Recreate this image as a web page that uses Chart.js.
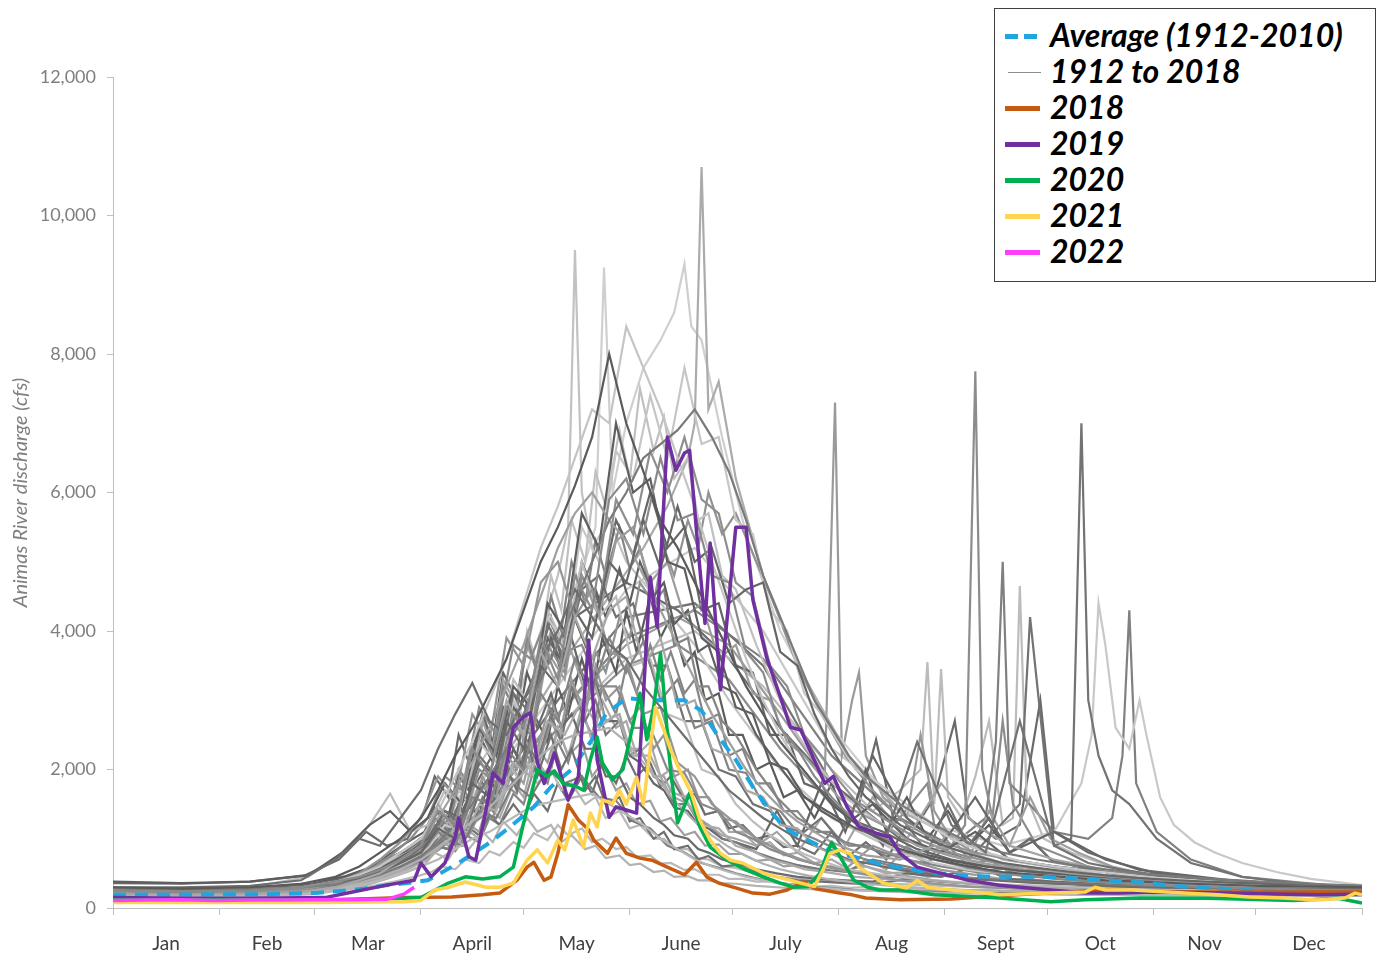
<!DOCTYPE html>
<html>
<head>
<meta charset="utf-8">
<script src="https://cdn.jsdelivr.net/npm/chart.js@4.4.1/dist/chart.umd.min.js"></script>
<style>
html,body{margin:0;padding:0;background:#fff;}
#wrap{position:relative;width:1382px;height:958px;overflow:hidden;}
#c{position:absolute;left:0;top:0;}
#legend{position:absolute;left:994px;top:8px;width:382px;height:274px;border:1px solid #404040;background:#fff;box-sizing:border-box;
  font-family:Lato,"DejaVu Sans",sans-serif;font-weight:bold;font-style:italic;font-size:32px;color:#000;}
.item{position:absolute;left:0;height:36px;width:380px;}
.sw{position:absolute;top:50%;}
.txt{position:absolute;left:55px;top:0;height:36px;line-height:36px;white-space:nowrap;}
</style>
</head>
<body>
<div id="wrap">
<canvas id="c" width="1382" height="958"></canvas>
<div id="legend"></div>
</div>
<script>
// ---------- axes ----------
const MONTHS = ['Jan','Feb','Mar','April','May','June','July','Aug','Sept','Oct','Nov','Dec'];
const MONTH_STARTS = [0,31,59,90,120,151,181,212,243,273,304,334,365];
const Y_MIN = 0, Y_MAX = 12000, Y_STEP = 2000;
const Y_TITLE = 'Animas River discharge (cfs)';

// ---------- highlighted series (day of year, cfs) ----------
const AVG_LABEL = 'Average (1912-2010)';
const AVG_DAYS = [0,15,31,45,60,70,75,80,86,92,101,110,116,123,128,134,140,144,150,157,167,172,177,182,187,192,197,203,209,216,224,232,240,250,260,270,280,290,300,310,320,330,340,350,365];
const AVG_VALS = [190,190,200,200,220,260,290,330,360,400,650,940,1170,1460,1750,2000,2430,2800,3030,3000,3000,2850,2470,2140,1750,1400,1130,980,840,740,640,560,510,460,450,450,430,400,370,320,290,260,235,215,200];

const Y2018_DAYS = [0,30,60,85,99,108,113,118,121,123,126,128,130,133,136,139,140.5,144.5,147,150,154,157.5,162,167,170.5,173.5,177,182,187,192,197,202,205,212,216,220,230,245,260,275,290,305,320,340,365];
const Y2018_VALS = [100,100,110,150,160,190,215,400,590,660,400,450,790,1490,1270,1130,980,790,1010,790,720,690,590,480,660,450,360,290,215,200,260,380,280,220,190,145,120,130,180,220,260,240,230,230,230];

const Y2019_DAYS = [0,20,40,62,70,80,88,90,93,97,100,101,104,106,109,111,114,117,120,122,124,126,129,133,136,139,141.5,145,147,150,153,157,159,162,164.5,167,168.5,171,173,174.5,177.5,182,185,187,191,195,198,201,204,208,210.5,214.5,218,223,227,230,235,242,250,259,274,284,294,304,323,352,365];
const Y2019_VALS = [150,140,140,150,230,330,400,650,450,650,1025,1300,740,690,1415,1950,1800,2610,2760,2820,2100,1800,2240,1560,1900,3870,2140,1310,1460,1415,1370,4780,4060,6800,6320,6570,6610,5170,4110,5270,3150,5500,5500,4450,3620,3050,2610,2570,2240,1800,1900,1460,1170,1080,1025,790,590,500,400,330,260,215,215,230,215,190,200];

const Y2020_DAYS = [0,30,60,80,90,98,103,108,113,117,120,122.5,124,127,129,131.5,135.5,137.5,139.5,141.5,143,146,149,151,154,156,158,160,163,165,166.5,168.5,171.5,174.5,179.5,185,190,195,199,203,206.5,210,212.5,216.5,220.5,224,230,240,259,274,284,300,320,345,358,365];
const Y2020_VALS = [120,120,120,130,150,360,450,420,450,590,1230,1700,2000,1900,1980,1800,1750,1700,2140,2470,2100,1850,2000,2430,3100,2430,2900,3680,1950,1230,1415,1660,1170,880,690,550,450,360,300,310,500,950,740,400,300,260,260,190,145,90,120,145,140,110,140,70];

const Y2021_DAYS = [0,30,60,85,90,94,98,103,109,113,117,121,124,127,130,132,134.5,137.5,139.5,141.5,143,146,148,150,153,155,158.5,161,163,166,169,171.5,174.5,177.5,180.5,184,190,194,198,201,205,207.5,209.5,212.5,215.5,218,225,232,235,238,245,254,259,274,284,287,290,298,313,323,332,342,352,360,363,365];
const Y2021_VALS = [80,80,80,90,110,260,300,375,300,300,360,690,840,650,980,840,1270,880,1370,1170,1560,1510,1700,1500,1890,1500,2900,2570,2280,1950,1660,1270,980,790,690,650,505,450,400,360,310,550,790,840,780,590,360,290,400,300,260,220,190,215,230,300,260,260,215,190,160,145,115,145,215,190];

const Y2022_DAYS = [0,10,20,30,40,50,60,70,80,85,88];
const Y2022_VALS = [110,115,120,110,115,115,120,120,125,200,300];

// ---------- historical years 1912 to 2018 (a sample of the grey traces) ----------
const HIST_LABEL = '1912 to 2018';
const DAYS_A = [0,20,40,55,65,72,78,84,90,95,100,105,110,115,120,125,130,135,140,145,150,155,160,165,170,175,180,185,190,195,200,205,210,215,220,230,240,250,260,270,280,290,300,315,335,365];
const DAYS_B = [0,20,40,57,67,75,81,87,92,97,102,107,112,117,122,127,132,137,142,147,152,157,162,167,172,177,182,187,192,197,202,207,212,217,225,235,245,255,265,275,285,295,305,320,340,365];
const DAYS_C = [0,20,40,56,66,74,80,86,91,94,98,101,104,108,111,114,118,121,124,128,131,134,138,141,144,148,151,154,158,161,164,168,171,174,178,182,188,194,200,207,214,222,232,242,252,262,275,290,305,325,345,365];
const DAYS_D = [0,20,40,58,68,76,83,89,93,96,100,103,107,110,113,117,120,123,127,130,133,137,140,143,147,150,153,157,160,163,167,170,173,177,180,184,188,192,196,200,205,210,215,220,226,232,238,244,250,256,262,268,274,282,292,305,325,345,365];

const HA1 = [300,280,300,350,450,600,800,1000,1300,1700,2200,2600,3100,3600,4300,5000,5500,6100,6800,8000,7000,6300,5600,5200,4700,4200,3700,3200,2800,2400,2100,1800,1500,1300,1100,850,700,600,520,480,440,400,380,350,320,300];
const HA2 = [250,240,250,300,380,450,550,700,900,1400,1200,2300,1900,2900,2600,3900,3300,4800,4300,5900,6200,5400,6500,5600,5700,4800,4700,3700,3400,2600,2300,1900,1600,1350,1150,900,700,580,500,450,400,370,340,310,280,250];
const HA3 = [200,190,200,230,300,400,500,700,900,1500,1100,2300,1900,3000,2500,3700,3200,4200,3600,4300,4500,3500,3900,2900,3000,2300,2200,1700,1600,1200,1150,900,780,680,600,480,400,350,320,300,280,260,250,230,210,200];
const HA4 = [300,300,320,400,700,1000,900,1300,1700,2300,2800,3250,2700,2500,3000,3600,4000,4600,4200,3800,3600,3200,2900,2600,2300,2000,1700,1500,1300,1150,1000,900,800,700,650,550,480,420,390,360,340,320,300,290,280,280];
const HA5 = [180,170,180,200,260,330,400,500,600,700,850,1000,1100,1250,1400,1500,1550,1600,1650,1500,1350,1200,1000,850,700,600,520,450,400,360,330,300,280,260,250,230,220,210,200,200,190,190,190,180,180,180];
const HA6 = [280,260,270,300,340,400,480,600,750,950,1200,1500,1900,2300,2800,3300,3800,4400,5000,5600,6000,6500,6700,6900,7200,6800,6300,5600,4800,4200,3600,3000,2600,2200,1900,1500,1200,950,800,700,620,560,500,440,380,320];
const HA7 = [260,250,260,300,380,480,600,800,1000,1400,1900,2400,3000,3600,4400,5200,5800,6500,7200,7000,8400,7800,7200,6500,5800,5000,4300,3600,3000,2500,2100,1800,1500,1300,1100,800,650,550,500,460,430,400,380,350,320,290];
const HA8 = [220,200,220,260,350,500,700,950,1300,1900,1600,2800,2400,3900,3500,4700,5000,4200,4600,3700,3600,2800,2900,2100,1900,1500,1300,1100,950,820,720,640,580,520,480,400,350,310,290,270,260,250,240,230,220,220];
const HA9 = [260,250,270,300,360,430,520,650,800,1150,1000,1800,1600,2700,2300,3500,3200,4300,3900,5000,4700,5600,4900,5800,5000,5200,4400,4600,4700,3700,3500,2800,2300,1900,1600,1200,950,780,650,580,520,470,430,390,350,300];
const HA10 = [200,190,200,220,280,360,450,560,700,880,1050,1250,1450,1700,1950,2200,2400,2500,2550,2600,2400,2100,1800,1500,1250,1050,880,750,640,560,500,450,410,380,350,310,280,260,250,240,230,220,210,200,200,200];
const HA11 = [240,230,240,280,340,420,520,650,800,1100,900,1600,1500,2300,2000,3100,2700,3600,3100,3900,3400,3850,3000,3300,2600,2700,2000,1950,1500,1400,1100,1000,880,780,700,580,500,440,400,370,350,330,310,290,270,250];
const HA12 = [230,220,240,280,360,480,620,800,1000,1300,1700,2100,2600,3200,3800,4500,5200,5700,6000,5600,5300,4800,4300,3800,3300,2800,2400,2000,1700,1450,1250,1100,950,850,760,700,900,800,650,560,500,460,420,380,340,300];

const HB1 = [380,360,380,470,800,1200,1400,1100,1300,1800,1500,2600,2200,3200,2900,4400,4000,5700,5200,7000,6000,6200,5000,4900,3900,3700,2900,2800,2100,2000,1600,1450,1300,1150,1000,800,680,600,540,500,460,430,400,370,340,320];
const HB2 = [260,260,300,450,800,1200,1650,1100,1200,1700,1500,2400,2100,3300,2900,4300,3800,5000,4200,4500,3500,3600,2800,2700,2000,1900,1500,1250,1050,900,780,680,600,540,480,420,380,350,330,310,290,280,270,260,250,250];
const HB3 = [250,240,250,300,380,470,580,720,900,1300,1200,2000,1800,2800,2500,3800,3400,4800,4300,5900,5400,6600,6000,6800,5900,5700,4700,4500,3500,3200,2500,2200,1850,1550,1300,1000,800,680,600,540,490,450,410,370,330,280];
const HB4 = [230,220,240,280,350,450,580,750,950,1400,1200,2200,1900,3100,2800,4100,3600,4600,4800,4200,4400,3500,3500,2700,2700,2000,1900,1500,1400,1150,1100,1300,1000,1500,900,2400,1200,800,2700,900,650,550,480,420,360,300];
const HB5 = [270,260,270,300,360,440,540,680,860,1200,1100,2000,1800,3000,2600,4200,3800,5500,5000,6600,6200,7400,6500,7800,6700,6800,5600,5400,4300,4000,3100,2800,2400,2000,1700,1300,1000,800,680,600,540,490,440,390,340,290];
const HB6 = [190,180,190,220,300,400,520,650,780,1000,900,1400,1300,1800,1600,2000,1800,1900,1600,1550,1250,1150,900,800,650,580,500,440,390,350,320,300,280,260,250,240,230,220,210,210,200,200,200,190,190,190];
const HB7 = [240,230,240,270,330,410,500,620,780,1100,1000,1800,1600,2700,2300,3700,3300,4800,4200,5300,5500,4700,5000,4200,4400,3600,3800,3100,3000,2400,2200,1900,1600,1400,1200,900,750,640,560,500,450,410,380,350,320,280];
const HB8 = [280,270,290,330,420,520,650,820,1000,1400,1300,2100,1900,2900,2600,3900,3500,5000,4400,5600,5100,6000,5200,5500,4300,4400,3500,3400,2500,2500,1800,1700,1450,1250,1100,850,700,600,540,500,470,440,410,380,340,300];
const HB9 = [210,200,210,240,300,380,470,580,700,950,900,1500,1400,2100,1900,2700,2500,3000,2600,2800,2200,2200,1700,1600,1200,1150,900,820,700,640,560,530,490,450,420,370,330,300,280,260,250,240,230,220,210,200];
const HB10 = [250,240,260,300,400,550,750,1000,1300,1900,1700,2900,2500,3800,3600,4200,3700,3800,3200,3200,2600,2600,2000,1950,1500,1400,1100,1000,850,760,680,610,560,510,470,410,370,340,320,300,290,280,270,260,250,250];

const HC1 = [220,210,230,280,380,520,700,850,1000,1300,1100,1500,1250,1800,1500,2100,1700,2400,1900,2500,2000,2300,1700,1900,1500,1600,1250,1300,1000,1100,850,900,700,750,600,620,520,450,400,380,360,340,420,380,350,330,310,290,270,250,240,230];
const HC2 = [240,230,240,290,360,460,600,750,900,1200,1000,1500,1300,1900,1600,2300,2000,2700,2300,3000,2600,3300,2800,3500,3000,3200,2700,2900,2300,2500,1900,2000,1600,1600,1300,1250,1000,850,700,620,560,900,700,550,480,600,450,400,350,300,270,250];
const HC3 = [270,260,280,320,420,560,750,950,1100,1400,1300,1900,1700,2400,2100,2900,2600,3400,3000,3900,3400,4300,3800,4600,4200,4900,4400,5000,4500,4700,4100,4300,3700,3800,3200,3100,2500,2100,1700,1400,1200,1500,1000,800,1100,700,600,520,450,380,330,290];
const HC4 = [170,160,170,200,260,330,420,520,620,800,700,950,850,1100,950,1250,1050,1300,1100,1200,950,1050,850,900,720,760,620,640,520,540,450,460,400,400,360,350,320,300,280,270,260,250,240,230,220,220,210,200,200,190,180,180];
const HC5 = [250,240,250,300,380,480,620,780,950,1300,1150,1800,1600,2500,2200,3200,2800,3900,3400,4500,4000,5000,4400,5300,4800,5500,4900,5200,4400,4600,3800,3900,3200,3200,2700,2500,2000,1600,1300,1100,950,850,700,600,520,480,430,400,370,340,310,280];
const HC6 = [230,220,240,280,360,470,620,800,1000,1400,1200,2000,1700,2700,2300,3300,2900,3800,3400,4000,3500,3700,3100,3200,2700,2800,2300,2300,1900,1900,1600,1500,1300,1200,1050,1000,900,1100,800,1300,900,1600,1000,1800,1200,900,700,550,450,380,320,280];
const HC7 = [360,350,380,470,700,1100,900,1000,1400,1900,1600,2500,2100,2800,2400,2600,2200,3000,2600,3100,2600,2800,2300,2300,1900,1900,1600,1500,1300,1200,1050,1000,850,800,700,650,560,500,450,420,400,380,500,450,600,420,380,340,310,290,280,270];
const HC8 = [260,250,260,300,370,460,580,720,900,1200,1100,1700,1500,2400,2100,3200,2800,4000,3500,4800,4300,5600,5000,6300,5800,6900,6200,7500,6600,7100,6200,6500,5600,5700,4800,4600,3800,3100,2500,2000,1600,1300,1000,800,650,550,480,430,390,350,310,280];
const HC9 = [210,200,210,240,300,380,480,600,700,900,850,1200,1100,1600,1400,2000,1800,2400,2100,2800,2400,3200,2700,3000,2500,2700,2200,2300,1900,1800,1500,1500,1250,1200,1000,950,800,700,620,560,520,700,600,480,430,400,370,340,310,280,250,230];
const HC10 = [260,250,260,290,340,410,500,610,720,900,850,1150,1050,1450,1300,1800,1650,2200,2000,2700,2400,3200,2900,3700,3400,4200,3900,4700,4400,5200,4800,5600,5200,6000,5400,5700,5000,4300,3500,2800,2200,1700,1200,950,800,700,600,520,450,390,340,300];
const HC11 = [190,180,190,220,290,380,500,640,800,1050,950,1400,1250,1800,1600,2200,1900,2100,1800,2000,1700,1800,1500,1600,1300,1400,1150,1200,1000,1000,850,850,720,700,600,580,500,450,420,400,380,360,340,320,300,290,280,270,260,240,220,210];
const HC12 = [250,240,260,310,400,520,680,860,1050,1450,1300,2000,1800,2700,2400,3400,3000,3900,3500,4200,3600,3900,3200,3300,2700,2700,2200,2100,1800,1700,1450,1400,1200,1150,1000,950,850,1400,900,1800,1100,2200,1300,900,1600,800,1100,700,500,400,340,300];

const HD1 = [230,220,240,300,400,520,650,780,900,1050,950,1200,1050,1350,1200,1500,1300,1650,1400,1800,1550,1900,1650,2100,1800,2200,1900,2100,1750,1900,1550,1650,1350,1400,1150,1200,1000,1050,880,900,780,1100,750,950,700,1200,800,1500,900,1300,800,1000,700,600,500,420,350,300,280];
const HD2 = [210,200,220,270,350,450,560,680,800,950,850,1150,1000,1450,1300,1800,1600,2200,1900,2600,2200,2900,2400,3000,2600,2700,2200,2400,1900,2000,1600,1700,1350,1400,1100,1100,900,950,760,800,650,700,560,600,500,520,450,480,420,450,400,420,380,340,310,290,260,240,220];
const HD3 = [280,270,290,350,460,600,760,900,1050,1250,1150,1500,1350,1850,1650,2300,2000,2800,2400,3200,2800,3600,3100,3900,3400,4300,3700,4500,3900,4200,3500,3700,3000,3100,2500,2500,2000,2100,1600,1700,1300,1800,1200,2000,1100,1600,1000,1400,900,1200,800,1000,700,600,500,430,370,330,300];
const HD4 = [170,160,170,200,260,320,390,460,520,600,560,700,650,820,760,950,870,1080,980,1200,1050,1150,950,1000,850,880,740,760,640,650,550,560,480,480,420,420,380,380,340,340,310,320,290,300,270,280,260,270,250,260,240,240,230,220,210,200,200,190,180];
const HD5 = [240,230,250,290,360,450,550,660,760,880,820,1050,950,1300,1200,1650,1500,2000,1800,2400,2100,2800,2500,3200,2800,3500,3100,3800,3300,3700,3100,3300,2700,2800,2200,2300,1800,1800,1400,1400,1100,1100,900,900,750,800,650,900,600,700,520,560,450,420,380,340,300,270,250];
const HD6 = [200,190,210,260,340,440,560,700,850,1000,920,1250,1100,1600,1450,2000,1800,2400,2100,2600,2200,2400,1900,2100,1700,1800,1500,1550,1250,1300,1050,1100,900,920,780,780,680,700,600,620,550,600,520,700,560,900,650,1100,700,1400,900,1600,1000,800,600,450,360,300,260];

// grey years with storm spikes (own day lists)
const HS1_DAYS = [0,40,70,90,100,110,118,125,130,133,135,137,140,145,150,160,170,180,195,210,230,260,300,365];
const HS1_VALS = [250,260,400,900,1500,2300,3000,4000,4800,5500,9500,6000,5200,5600,5000,4400,3800,3000,2000,1300,800,500,350,260];
const HS2_DAYS = [0,40,70,90,105,120,135,145,155,162,168,170,172,174,177,182,190,200,215,230,260,300,365];
const HS2_VALS = [260,260,380,700,1500,2600,3800,4500,5200,5800,6500,7000,10700,7200,7600,6200,4800,3500,2200,1400,700,400,280];
const HS3_DAYS = [0,40,70,90,105,120,130,138,141,143.5,146,150,155,160,164,167,169,172,178,185,195,210,230,260,300,365];
const HS3_VALS = [270,280,420,800,1600,2800,4000,5000,5500,9250,6000,7000,7800,8200,8600,9300,8400,8200,6800,5400,4000,2600,1400,700,400,290];
const HS4_DAYS = [0,40,70,90,110,130,150,165,180,195,205,208,211,213,216,218,220,225,232,236,240,245,255,270,300,365];
const HS4_VALS = [220,230,350,700,1600,2800,3800,4200,3800,2800,2100,1900,7300,2200,3000,3400,2200,1600,1300,2500,1400,1000,700,500,350,240];
const HS5_DAYS = [0,40,70,90,110,130,150,165,180,195,210,225,238,240,245,249,252,254,257,260,263,270,285,300,365];
const HS5_VALS = [230,240,360,650,1400,2600,3500,3800,3300,2300,1500,1000,1800,1200,900,1200,7750,2000,1300,2700,1500,900,600,420,260];
const HS6_DAYS = [0,40,70,90,110,130,150,170,190,210,230,250,265,268,275,280,283,285,288,292,297,305,315,330,345,365];
const HS6_VALS = [260,260,380,700,1600,3000,4200,4400,3500,1800,1000,700,1500,4200,900,1000,7000,3000,2200,1700,1500,1000,650,450,360,300];
const HS7_DAYS = [0,40,70,90,110,130,150,170,190,210,240,260,275,283,286,288,290,293,297,300,302,306,310,316,322,330,340,350,365];
const HS7_VALS = [280,280,420,800,1800,3200,4600,5200,4000,2300,1200,900,1100,1800,2500,4400,3800,2600,2300,3000,2500,1600,1200,950,800,650,520,420,330];
const HS8_DAYS = [0,40,70,90,110,130,150,170,190,210,230,245,255,258,260,262,266,275,285,292,295,297,299,305,315,330,365];
const HS8_VALS = [240,240,360,700,1500,2800,3900,4300,3600,2200,1300,900,1300,2400,5000,1800,1600,1100,1000,1300,2200,4300,1800,1100,700,450,280];
const HS9_DAYS = [0,40,70,90,110,130,150,170,190,210,222,230,236,238,240,242,244,248,252,256,260,263,265,267,272,280,300,365];
const HS9_VALS = [230,230,350,650,1400,2600,3600,4000,3200,2000,1400,1700,2000,3550,1500,3450,1600,1300,1900,2700,1200,1300,4650,1600,1000,800,450,260];
const HS10_DAYS = [0,40,70,90,105,120,135,150,165,180,195,210,218,223,228,235,240,246,250,258,265,271,275,285,300,330,365];
const HS10_VALS = [260,260,380,800,1700,3000,4200,4700,4300,3600,2600,1800,1500,2430,1300,1200,1600,2700,1300,1000,1200,3000,1100,800,550,380,300];

// ---------- build ----------
const pts = (d, v) => d.map((x, i) => ({x: x, y: v[i]}));

const GREY_SETS = [
  [DAYS_A, HA1, '#5a5a5a'], [DAYS_A, HA2, '#8a8a8a'], [DAYS_A, HA3, '#a8a8a8'], [DAYS_A, HA4, '#6e6e6e'],
  [DAYS_A, HA5, '#b8b8b8'], [DAYS_A, HA6, '#7a7a7a'], [DAYS_A, HA7, '#c4c4c4'], [DAYS_A, HA8, '#959595'],
  [DAYS_A, HA9, '#666666'], [DAYS_A, HA10, '#b0b0b0'], [DAYS_A, HA11, '#848484'], [DAYS_A, HA12, '#a0a0a0'],
  [DAYS_B, HB1, '#5e5e5e'], [DAYS_B, HB2, '#bdbdbd'], [DAYS_B, HB3, '#8f8f8f'], [DAYS_B, HB4, '#727272'],
  [DAYS_B, HB5, '#c6c6c6'], [DAYS_B, HB6, '#7d7d7d'], [DAYS_B, HB7, '#9c9c9c'], [DAYS_B, HB8, '#666666'],
  [DAYS_B, HB9, '#aaaaaa'], [DAYS_B, HB10, '#8a8a8a'],
  [DAYS_C, HC1, '#707070'], [DAYS_C, HC2, '#989898'], [DAYS_C, HC3, '#5f5f5f'], [DAYS_C, HC4, '#b3b3b3'],
  [DAYS_C, HC5, '#848484'], [DAYS_C, HC6, '#a4a4a4'], [DAYS_C, HC7, '#6a6a6a'], [DAYS_C, HC8, '#c0c0c0'],
  [DAYS_C, HC9, '#7a7a7a'], [DAYS_C, HC10, '#929292'], [DAYS_C, HC11, '#b8b8b8'], [DAYS_C, HC12, '#666666'],
  [DAYS_D, HD1, '#6f6f6f'], [DAYS_D, HD2, '#a9a9a9'], [DAYS_D, HD3, '#5c5c5c'], [DAYS_D, HD4, '#bababa'],
  [DAYS_D, HD5, '#868686'], [DAYS_D, HD6, '#9e9e9e'],
  [HS1_DAYS, HS1_VALS, '#c2c2c2'], [HS2_DAYS, HS2_VALS, '#ababab'], [HS3_DAYS, HS3_VALS, '#cfcfcf'],
  [HS4_DAYS, HS4_VALS, '#9a9a9a'], [HS5_DAYS, HS5_VALS, '#8c8c8c'], [HS6_DAYS, HS6_VALS, '#737373'],
  [HS7_DAYS, HS7_VALS, '#c8c8c8'], [HS8_DAYS, HS8_VALS, '#808080'], [HS9_DAYS, HS9_VALS, '#bcbcbc'],
  [HS10_DAYS, HS10_VALS, '#6a6a6a']
];

const HIGHLIGHTS = [
  {label: '2018', days: Y2018_DAYS, vals: Y2018_VALS, color: '#C55A11', order: 4},
  {label: '2019', days: Y2019_DAYS, vals: Y2019_VALS, color: '#7030A0', order: 3},
  {label: '2020', days: Y2020_DAYS, vals: Y2020_VALS, color: '#00B050', order: 2},
  {label: '2021', days: Y2021_DAYS, vals: Y2021_VALS, color: '#FFD44F', order: 1},
  {label: '2022', days: Y2022_DAYS, vals: Y2022_VALS, color: '#FF3DFF', order: 0}
];

const datasets = [];
datasets.push({
  label: AVG_LABEL, data: pts(AVG_DAYS, AVG_VALS), borderColor: '#1FA6E0', borderWidth: 4,
  borderDash: [13, 9], pointRadius: 0, tension: 0, fill: false, order: 5
});
HIGHLIGHTS.forEach(h => datasets.push({
  label: h.label, data: pts(h.days, h.vals), borderColor: h.color, borderWidth: 3.5,
  pointRadius: 0, tension: 0, fill: false, order: h.order, borderJoinStyle: 'round'
}));
GREY_SETS.forEach((g, i) => datasets.push({
  label: i === 0 ? HIST_LABEL : HIST_LABEL + ' #' + (i + 1), data: pts(g[0], g[1]), borderColor: g[2],
  borderWidth: 2.2, pointRadius: 0, tension: 0, fill: false, order: 10 + i
}));

const MONTH_MIDS = MONTHS.map((m, i) => (MONTH_STARTS[i] + MONTH_STARTS[i + 1]) / 2);
const X_TICKS = MONTH_STARTS.concat(MONTH_MIDS).sort((a, b) => a - b);
const isStart = v => MONTH_STARTS.indexOf(v) !== -1;
const monthLabel = v => { const k = MONTH_MIDS.indexOf(v); return k === -1 ? '' : MONTHS[k]; };

new Chart(document.getElementById('c'), {
  type: 'line',
  data: {datasets: datasets},
  options: {
    responsive: false, animation: false, devicePixelRatio: 1, events: [],
    layout: {padding: {top: 77, right: 20, left: 0, bottom: 0}},
    plugins: {legend: {display: false}, tooltip: {enabled: false}, title: {display: false}},
    scales: {
      x: {
        type: 'linear', min: 0, max: 365,
        afterBuildTicks: s => { s.ticks = X_TICKS.map(v => ({value: v})); },
        afterFit: s => { s.height = 50; },
        grid: {
          drawOnChartArea: false, drawTicks: true, tickLength: 7,
          color: c => (c.tick && isStart(c.tick.value)) ? '#bfbfbf' : 'rgba(0,0,0,0)',
          tickColor: c => (c.tick && isStart(c.tick.value)) ? '#bfbfbf' : 'rgba(0,0,0,0)'
        },
        border: {display: true, color: '#bfbfbf', width: 1},
        ticks: {
          autoSkip: false, maxRotation: 0, minRotation: 0, padding: 17, color: '#404040',
          font: {family: 'Lato', size: 19},
          callback: v => monthLabel(v)
        }
      },
      y: {
        min: Y_MIN, max: Y_MAX,
        afterFit: s => { s.width = 113; },
        grid: {drawOnChartArea: false, drawTicks: true, tickLength: 6, color: '#bfbfbf'},
        border: {display: true, color: '#bfbfbf', width: 1},
        ticks: {
          stepSize: Y_STEP, padding: 11, color: '#7f7f7f', font: {family: 'Lato', size: 18},
          callback: v => v.toLocaleString('en-US')
        },
        title: {
          display: true, text: Y_TITLE, color: '#7f7f7f',
          font: {family: 'Lato', size: 20, style: 'italic'}, padding: {top: 9, bottom: 0}
        }
      }
    }
  }
});

// ---------- legend ----------
const LEGEND_ITEMS = [
  {text: AVG_LABEL, kind: 'dash', color: '#1FA6E0'},
  {text: HIST_LABEL, kind: 'thin', color: '#8c8c8c'},
  {text: '2018', kind: 'solid', color: '#C55A11'},
  {text: '2019', kind: 'solid', color: '#7030A0'},
  {text: '2020', kind: 'solid', color: '#00B050'},
  {text: '2021', kind: 'solid', color: '#FFD44F'},
  {text: '2022', kind: 'solid', color: '#FF3DFF'}
];
const leg = document.getElementById('legend');
LEGEND_ITEMS.forEach((it, i) => {
  const row = document.createElement('div');
  row.className = 'item';
  row.style.top = (8 + i * 36) + 'px';
  if (it.kind === 'dash') {
    [10, 29].forEach(x => {
      const s = document.createElement('div'); s.className = 'sw';
      s.style.cssText += `left:${x}px;width:13px;height:5px;margin-top:-1px;background:${it.color};`;
      row.appendChild(s);
    });
  } else if (it.kind === 'thin') {
    const s = document.createElement('div'); s.className = 'sw';
    s.style.cssText += `left:13px;width:33px;height:1px;margin-top:1px;background:${it.color};`;
    row.appendChild(s);
  } else {
    const s = document.createElement('div'); s.className = 'sw';
    s.style.cssText += `left:10px;width:35px;height:5px;margin-top:-1px;background:${it.color};`;
    row.appendChild(s);
  }
  const t = document.createElement('div'); t.className = 'txt'; t.textContent = it.text;
  row.appendChild(t);
  leg.appendChild(row);
});
</script>
</body>
</html>
